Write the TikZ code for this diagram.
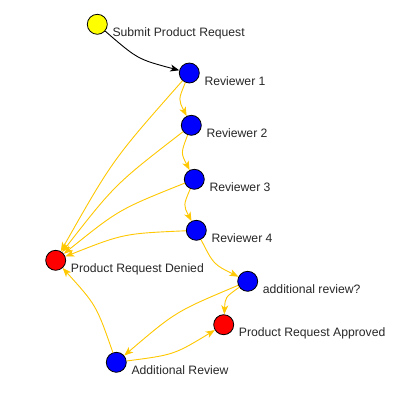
\documentclass[tikz,border=0pt]{standalone}
\usepackage{fontspec}
\setmainfont{Liberation Sans}
\usetikzlibrary{calc,arrows.meta}
\definecolor{cStart}{RGB}{255,255,0}
\definecolor{cStep}{RGB}{0,0,255}
\definecolor{cEnd}{RGB}{255,0,0}
\definecolor{cFlow}{RGB}{255,200,0}
\definecolor{cText}{RGB}{40,40,40}

\begin{document}
\begin{tikzpicture}[x=1pt,y=-1pt,
  vtx/.style={circle,draw=black,line width=0.8pt,minimum size=20pt,inner sep=0pt},
  lbl/.style={anchor=base west,inner sep=0pt,text=cText,font=\fontsize{12.2}{14}\selectfont},
  tip/.style={line width=0.9pt,-{Stealth[length=9pt,width=7pt,inset=2.5pt]}},
  flow/.style={tip,cFlow},
  arc/.style={to path={.. controls ($(\tikztostart)!0.5!(\tikztotarget)!12pt!-90:(\tikztotarget)$) .. (\tikztotarget)}}]
  \fill[white] (0,0) rectangle (413,415);
  \useasboundingbox (0,0) rectangle (413,415);
  % vertices
  \node[vtx,fill=cStart] (sub) at (97.3,24.3)  {};
  \node[vtx,fill=cStep]  (r1)  at (189.3,73)   {};
  \node[vtx,fill=cStep]  (r2)  at (191.3,125.3) {};
  \node[vtx,fill=cStep]  (r3)  at (194.3,179.3) {};
  \node[vtx,fill=cStep]  (r4)  at (196.3,230.3) {};
  \node[vtx,fill=cEnd]   (den) at (55.7,260.3)  {};
  \node[vtx,fill=cStep]  (adq) at (247.7,281.3) {};
  \node[vtx,fill=cEnd]   (app) at (223.7,324.7) {};
  \node[vtx,fill=cStep]  (adr) at (116.3,362.3) {};
  % labels
  \node[lbl] (l-sub) at ([shift={(15,12)}]sub.center) {Submit Product Request};
  \node[lbl] (l-r1)  at ([shift={(15,12)}]r1.center)  {Reviewer 1};
  \node[lbl] (l-r2)  at ([shift={(15,12)}]r2.center)  {Reviewer 2};
  \node[lbl] (l-r3)  at ([shift={(15,12)}]r3.center)  {Reviewer 3};
  \node[lbl] (l-r4)  at ([shift={(15,12)}]r4.center)  {Reviewer 4};
  \node[lbl] (l-den) at ([shift={(15,12)}]den.center) {Product Request Denied};
  \node[lbl] (l-adq) at ([shift={(15,12)}]adq.center) {additional review?};
  \node[lbl] (l-app) at ([shift={(15,12)}]app.center) {Product Request Approved};
  \node[lbl] (l-adr) at ([shift={(15,12)}]adr.center) {Additional Review};
  % edges
  \draw[tip,black] (sub) to[arc] (r1);
  \foreach \a/\b in {r1/r2,r2/r3,r3/r4,r4/adq,r1/den,r2/den,r3/den,r4/den,
                     adq/app,adq/adr,adr/app,adr/den}
    \draw[flow] (\a) to[arc] (\b);
\end{tikzpicture}
\end{document}
